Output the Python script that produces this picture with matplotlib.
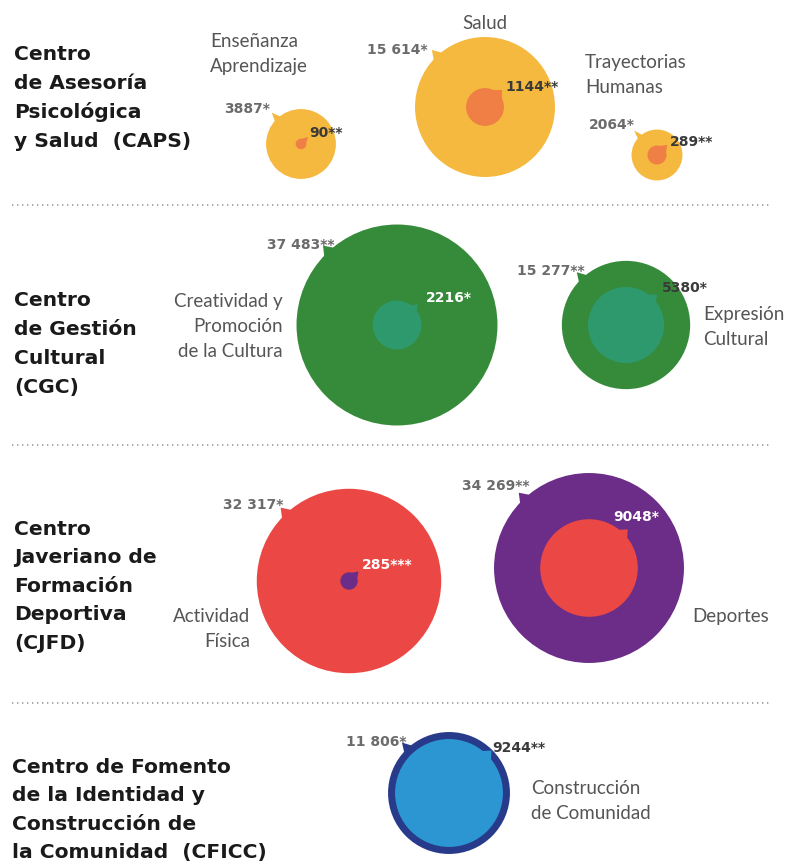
import numpy as np
import matplotlib as mpl
mpl.use('Agg')
import matplotlib.pyplot as plt
from matplotlib.patches import Circle, Polygon

# --- data ---
centre_titles = [
    ['Centro', 'de Asesoría', 'Psicológica', 'y Salud  (CAPS)'],
    ['Centro', 'de Gestión', 'Cultural', '(CGC)'],
    ['Centro', 'Javeriano de', 'Formación', 'Deportiva', '(CJFD)'],
    ['Centro de Fomento', 'de la Identidad y', 'Construcción de', 'la Comunidad  (CFICC)'],
]
categories = ['Enseñanza\nAprendizaje', 'Salud', 'Trayectorias\nHumanas',
              'Creatividad y\nPromoción\nde la Cultura', 'Expresión\nCultural',
              'Actividad\nFísica', 'Deportes', 'Construcción\nde Comunidad']
row_of = [0, 0, 0, 1, 1, 2, 2, 3]
outer_vals = [3887, 15614, 2064, 37483, 15277, 32317, 34269, 11806]
outer_marks = ['*', '*', '*', '**', '**', '*', '**', '*']
inner_vals = [90, 1144, 289, 2216, 5380, 285, 9048, 9244]
inner_marks = ['**', '**', '**', '*', '*', '***', '*', '**']

# --- layout (pixels) ---
W, H = 788, 862
row_scale = [0.56, 0.519, 0.513, 0.561]
centres = [(301, 145), (485, 108), (657, 156), (397, 326), (626, 326),
           (349, 582), (589, 569), (449, 794)]
outer_col = ['#F4B93E', '#F4B93E', '#F4B93E', '#358B3A', '#358B3A', '#EA4745', '#6B2D87', '#283A8A']
inner_col = ['#EF7F45', '#EF7F45', '#EF7F45', '#2E996C', '#2E996C', '#6B2D87', '#EA4745', '#2B96D2']
inner_txt_col = ['#3a3a3a', '#3a3a3a', '#3a3a3a', 'white', '#3a3a3a', 'white', 'white', '#3a3a3a']
outer_lab_pos = [(270, 109), (428, 50), (635, 125), (335, 245), (585, 271), (283, 505), (530, 486), (407, 742)]
inner_lab_pos = [(309, 133), (505, 87), (670, 142), (426, 298), (662, 288), (362, 565), (613, 517), (492, 748)]
# category label: (x, first baseline, ha)
cat_pos = [(210, 47, 'left'), (485, 29, 'center'), (585, 68, 'left'), (283, 307, 'right'),
           (703, 320, 'left'), (250, 622, 'right'), (692, 622, 'left'), (531, 794, 'left')]
title_pos = [(14, 60, 29), (14, 306, 29), (14, 535, 28.5), (12, 773, 28.4)]
separators = [206, 446, 704]


def fmt(v):
    return f'{v:,}'.replace(',', ' ') if v >= 10000 else str(v)


def tail(ax, cx, cy, r, ang, ext, half, color):
    a = np.radians(ang)
    tip = (cx + (r + ext) * np.cos(a), cy - (r + ext) * np.sin(a))
    h = np.radians(half)
    p1 = (cx + 0.9 * r * np.cos(a - h), cy - 0.9 * r * np.sin(a - h))
    p2 = (cx + 0.9 * r * np.cos(a + h), cy - 0.9 * r * np.sin(a + h))
    ax.add_patch(Polygon([p1, tip, p2], closed=True, color=color, lw=0))


fig = plt.figure(figsize=(W / 100, H / 100), dpi=100)
ax = fig.add_axes([0, 0, 1, 1])
ax.set_xlim(0, W)
ax.set_ylim(H, 0)
ax.axis('off')

for y in separators:
    ax.plot([12, 770], [y, y], color='#9a9a9a', lw=1.2, linestyle=(0, (0.8, 2.2)))

for lines, (x, y0, step) in zip(centre_titles, title_pos):
    for i, line in enumerate(lines):
        ax.text(x, y0 + i * step, line, fontsize=14.6, fontweight='bold',
                color='#1a1a1a', va='baseline', ha='left', family='DejaVu Sans')

for i, cat in enumerate(categories):
    x, y0, ha = cat_pos[i]
    for j, line in enumerate(cat.split('\n')):
        ax.text(x, y0 + j * 25, line, fontsize=13.5, color='#555555', va='baseline',
                ha=ha, family='Lato', fontweight='normal')

for i in range(len(categories)):
    k = row_scale[row_of[i]]
    cx, cy = centres[i]
    ro = k * np.sqrt(outer_vals[i])
    ri = k * np.sqrt(inner_vals[i])
    ax.add_patch(Circle((cx, cy), ro, color=outer_col[i], lw=0))
    tail(ax, cx, cy, ro, 133, 8, 9, outer_col[i])
    ax.add_patch(Circle((cx, cy), ri, color=inner_col[i], lw=0))
    ext = 4.5 + 0.03 * ri
    half = min(np.degrees(np.arccos(ri / (ri + ext))), 14 if ri > 20 else 60)
    tail(ax, cx, cy, ri, 45, ext, half, inner_col[i])

    ox, oy = outer_lab_pos[i]
    ax.text(ox, oy, fmt(outer_vals[i]) + outer_marks[i], fontsize=10, fontweight='bold',
            color='#6b6b6b', ha='right', va='center', family='DejaVu Sans')
    ix, iy = inner_lab_pos[i]
    ax.text(ix, iy, fmt(inner_vals[i]) + inner_marks[i], fontsize=10, fontweight='bold',
            color=inner_txt_col[i], ha='left', va='center', family='DejaVu Sans')

plt.savefig('out.png', dpi=100)
plt.close(fig)
